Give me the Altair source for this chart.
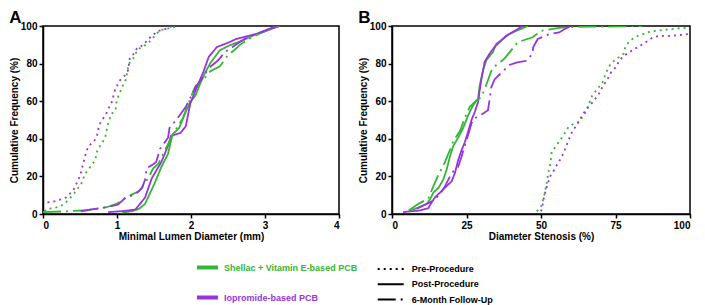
import altair as alt
import pandas as pd

FONT = "Liberation Sans"
GROUPS = ["Shellac + Vitamin E-based PCB", "Iopromide-based PCB"]
COLORS = ["#35b535", "#9933e0"]
STAGES = ["Pre-Procedure", "Post-Procedure", "6-Month Follow-Up"]
DASHES = [[2, 4], [1, 0], [18, 5, 2, 5]]

# ---------- Panel A: Minimal Lumen Diameter (mm) ----------
A_pre_green_x = [0.02, 0.06, 0.15, 0.23, 0.30, 0.35, 0.41, 0.45, 0.51, 0.57, 0.66, 0.71, 0.72, 0.76, 0.80, 0.84, 0.87, 0.92, 0.98, 0.99, 1.01, 1.07, 1.12, 1.16, 1.22, 1.28, 1.34, 1.38, 1.44, 1.58, 1.70, 1.84]
A_pre_green_p = [1.4, 2.8, 3.1, 4.1, 5.7, 7.9, 10.2, 12.8, 15.3, 21.4, 26.2, 28.9, 32.5, 35.5, 37.9, 40.6, 46.7, 53.0, 55.4, 58.9, 61.8, 67.6, 71.6, 79.9, 82.8, 87.5, 89.0, 89.8, 91.7, 97.8, 98.8, 100]
A_pre_purple_x = [0.06, 0.15, 0.23, 0.31, 0.41, 0.48, 0.51, 0.55, 0.59, 0.63, 0.69, 0.73, 0.76, 0.80, 0.85, 0.89, 0.93, 0.97, 1.03, 1.10, 1.15, 1.17, 1.23, 1.27, 1.33, 1.40, 1.46, 1.56, 1.69, 1.74]
A_pre_purple_p = [6.2, 6.7, 7.6, 8.7, 12.7, 18.4, 21.7, 27.9, 33.8, 36.7, 38.6, 41.8, 47.5, 50.0, 53.0, 56.5, 59.6, 65.6, 70.7, 73.5, 76.4, 82.4, 85.4, 88.1, 89.3, 91.9, 94.5, 97.4, 98.8, 100]
A_post_green_x = [1.07, 1.20, 1.30, 1.38, 1.51, 1.60, 1.69, 1.75, 1.84, 1.93, 1.99, 2.06, 2.13, 2.19, 2.26, 2.39, 2.52, 2.70, 2.83, 2.96, 3.13, 3.20]
A_post_green_p = [0.7, 1.5, 2.8, 5.4, 16.5, 25.1, 32.0, 42.3, 45.8, 54.4, 59.6, 63.0, 69.9, 75.1, 80.2, 87.1, 89.7, 92.3, 94.8, 96.6, 99.1, 100]
A_post_purple_x = [0.88, 1.10, 1.25, 1.38, 1.47, 1.60, 1.69, 1.73, 1.86, 1.93, 1.99, 2.06, 2.17, 2.24, 2.35, 2.52, 2.61, 2.78, 2.96, 3.05, 3.20]
A_post_purple_p = [1.0, 1.6, 2.4, 8.8, 19.0, 27.7, 36.3, 41.5, 43.2, 46.7, 58.7, 65.6, 75.9, 83.6, 88.8, 91.4, 93.1, 94.8, 96.6, 98.3, 100]
A_6m_green_x = [0.00, 0.30, 0.60, 0.86, 1.00, 1.12, 1.30, 1.41, 1.49, 1.56, 1.69, 1.78, 1.89, 1.99, 2.06, 2.17, 2.26, 2.39, 2.48, 2.63, 2.65, 2.78, 2.95, 3.20]
A_6m_green_p = [1.0, 1.4, 2.0, 3.6, 5.5, 8.8, 12.2, 18.3, 24.3, 26.8, 37.2, 44.1, 51.0, 61.3, 68.1, 71.6, 75.9, 78.5, 83.6, 88.8, 89.7, 93.0, 96.5, 100]
A_6m_purple_x = [0.51, 0.65, 0.85, 1.01, 1.12, 1.25, 1.34, 1.38, 1.40, 1.49, 1.53, 1.58, 1.69, 1.71, 1.82, 1.93, 2.06, 2.17, 2.24, 2.37, 2.46, 2.56, 2.72, 2.87, 3.05, 3.15]
A_6m_purple_p = [1.4, 2.4, 3.6, 4.9, 8.8, 10.5, 13.9, 18.3, 24.3, 26.5, 27.7, 34.6, 40.6, 45.8, 51.0, 57.0, 67.3, 73.3, 77.6, 81.9, 86.2, 88.8, 93.1, 95.7, 98.3, 100]

# ---------- Panel B: Diameter Stenosis (%) ----------
B_pre_green_x = [48.6, 50.0, 51.1, 51.7, 52.6, 53.1, 53.6, 54.8, 56.1, 58.3, 59.2, 61.1, 62.8, 63.9, 65.0, 65.8, 67.2, 68.6, 70.6, 71.4, 72.2, 73.3, 74.8, 76.4, 77.8, 78.3, 79.4, 81.1, 82.8, 85.0, 86.7, 90.6, 95.0, 99.4]
B_pre_green_p = [1.4, 3.6, 10.0, 14.8, 23.0, 26.3, 32.9, 35.5, 38.6, 43.7, 46.3, 48.2, 49.0, 51.5, 54.4, 57.5, 63.0, 65.9, 69.9, 73.3, 76.4, 79.7, 81.9, 83.6, 85.4, 88.8, 91.4, 93.6, 95.0, 96.0, 97.1, 97.8, 98.6, 99.1]
B_pre_purple_x = [50.0, 50.6, 51.1, 52.0, 53.3, 54.4, 55.6, 57.0, 58.1, 59.2, 60.3, 61.3, 62.8, 63.9, 65.0, 66.3, 67.8, 69.2, 70.8, 72.3, 73.4, 74.8, 76.1, 77.4, 79.4, 82.2, 85.0, 87.2, 89.4, 93.9, 97.8, 99.4]
B_pre_purple_p = [1.4, 5.4, 9.7, 14.8, 20.9, 23.4, 26.8, 30.3, 34.6, 39.2, 43.2, 45.8, 49.3, 52.7, 55.2, 57.5, 60.4, 63.3, 68.1, 71.6, 75.1, 77.6, 81.0, 83.6, 85.9, 88.5, 91.2, 93.6, 94.7, 94.8, 95.4, 95.7]
B_post_green_x = [6.1, 9.0, 11.7, 12.8, 13.9, 15.6, 17.2, 18.3, 19.4, 20.6, 22.2, 23.9, 25.6, 27.2, 28.9, 29.4, 30.6, 31.7, 33.9, 35.0, 37.2, 39.4, 41.7, 45.6]
B_post_green_p = [1.9, 3.5, 5.4, 7.9, 11.4, 13.9, 18.3, 23.4, 30.3, 36.3, 40.6, 45.8, 52.7, 57.8, 61.3, 68.1, 76.8, 81.9, 86.2, 90.5, 93.1, 95.7, 97.4, 100]
B_post_purple_x = [3.7, 9.4, 12.2, 13.3, 14.4, 16.1, 18.3, 20.0, 21.1, 22.2, 23.3, 24.4, 25.6, 26.7, 27.8, 28.9, 29.4, 30.0, 30.6, 31.1, 32.8, 34.4, 36.1, 38.3, 41.1, 43.9]
B_post_purple_p = [1.0, 1.9, 3.1, 6.2, 8.8, 11.4, 14.8, 17.4, 21.7, 28.6, 33.8, 38.0, 44.1, 50.1, 54.4, 59.6, 65.6, 71.6, 76.8, 81.0, 85.4, 88.8, 91.4, 94.8, 97.4, 100]
B_6m_green_x = [5.6, 8.9, 12.2, 13.9, 15.6, 17.8, 19.4, 20.6, 22.8, 24.4, 26.1, 28.3, 30.0, 31.7, 33.3, 35.0, 37.2, 37.8, 42.2, 47.2, 50.0, 56.7, 62.0, 84.0]
B_6m_green_p = [1.9, 5.4, 8.3, 14.8, 20.9, 27.7, 33.8, 38.9, 44.1, 51.0, 57.0, 60.4, 62.2, 69.0, 75.9, 79.3, 81.9, 82.8, 91.4, 94.0, 97.4, 99.1, 99.5, 100]
B_6m_purple_x = [8.3, 13.9, 16.1, 17.8, 20.0, 22.2, 23.3, 24.4, 25.6, 26.7, 27.8, 30.6, 32.2, 32.8, 33.3, 34.4, 36.1, 37.8, 39.4, 41.7, 45.0, 47.2, 47.4, 48.9, 52.8, 56.1, 57.8, 59.4, 61.0]
B_6m_purple_p = [2.8, 7.1, 10.5, 14.8, 21.7, 25.1, 30.3, 36.3, 42.3, 48.4, 51.0, 53.5, 55.2, 61.3, 67.3, 71.6, 74.2, 76.8, 79.3, 80.5, 81.5, 85.4, 88.8, 93.1, 95.7, 96.6, 98.3, 99.5, 100]


def rows(group, stage, xs, ps):
    return [{"group": group, "stage": stage, "x": x, "p": p, "i": i}
            for i, (x, p) in enumerate(zip(xs, ps))]


G, P = GROUPS
dfA = pd.DataFrame(
    rows(G, STAGES[0], A_pre_green_x, A_pre_green_p)
    + rows(P, STAGES[0], A_pre_purple_x, A_pre_purple_p)
    + rows(G, STAGES[1], A_post_green_x, A_post_green_p)
    + rows(P, STAGES[1], A_post_purple_x, A_post_purple_p)
    + rows(G, STAGES[2], A_6m_green_x, A_6m_green_p)
    + rows(P, STAGES[2], A_6m_purple_x, A_6m_purple_p)
)
dfB = pd.DataFrame(
    rows(G, STAGES[0], B_pre_green_x, B_pre_green_p)
    + rows(P, STAGES[0], B_pre_purple_x, B_pre_purple_p)
    + rows(G, STAGES[1], B_post_green_x, B_post_green_p)
    + rows(P, STAGES[1], B_post_purple_x, B_post_purple_p)
    + rows(G, STAGES[2], B_6m_green_x, B_6m_green_p)
    + rows(P, STAGES[2], B_6m_purple_x, B_6m_purple_p)
)

color_legend = alt.Legend(
    title=None, orient="none", legendX=152, legendY=229, direction="vertical",
    symbolType="stroke", symbolSize=441, symbolStrokeWidth=4,
    labelFont=FONT, labelFontSize=9, labelFontWeight="bold", labelOffset=4,
    labelColor=alt.ExprRef("datum.label == 'Iopromide-based PCB' ? '#9933e0' : '#35b535'"),
    rowPadding=9, padding=0,
)
dash_legend = alt.Legend(
    title=None, orient="none", legendX=341.7, legendY=237, direction="vertical",
    symbolType="M-2.6,0H2.6", symbolSize=100, symbolStrokeWidth=2,
    symbolStrokeColor="black", symbolFillColor="transparent",
    labelFont=FONT, labelFontSize=9, labelFontWeight="bold", labelOffset=15,
    labelColor="black", rowPadding=4.3, padding=0,
)


def panel(df, domain, ticks, xtitle, letter, width):
    return alt.Chart(df).mark_line(strokeWidth=1.8, clip=True).encode(
        x=alt.X("x:Q", scale=alt.Scale(domain=domain, nice=False, zero=False),
                axis=alt.Axis(values=ticks, title=xtitle)),
        y=alt.Y("p:Q", scale=alt.Scale(domain=[0, 100], nice=False),
                axis=alt.Axis(values=[0, 20, 40, 60, 80, 100], title="Cumulative Frequency (%)")),
        color=alt.Color("group:N", scale=alt.Scale(domain=GROUPS, range=COLORS), legend=color_legend),
        strokeDash=alt.StrokeDash("stage:N", scale=alt.Scale(domain=STAGES, range=DASHES), legend=dash_legend),
        order=alt.Order("i:Q"),
    ).properties(
        width=width, height=188,
        title=alt.TitleParams(letter, anchor="start", fontSize=17, font=FONT,
                              fontWeight="bold", offset=-6, color="black"),
    )


chartA = panel(dfA, [0, 4], [0, 1, 2, 3, 4], "Minimal Lumen Diameter (mm)", "A", 296)
chartB = panel(dfB, [0, 100], [0, 25, 50, 75, 100], "Diameter Stenosis (%)", "B", 298)

chart = alt.hconcat(chartA, chartB, spacing=16).properties(
    padding={"left": 0, "top": 0, "right": 0, "bottom": 0}
).configure_axis(
    grid=False, labelFont=FONT, labelFontSize=10, labelFontWeight="bold", labelColor="black",
    titleFont=FONT, titleFontSize=10, titleFontWeight="bold", titleColor="black",
    domainColor="black", domainWidth=1.5, tickColor="black", tickWidth=1.5, tickSize=4,
    labelPadding=2, titlePadding=1,
).configure_view(stroke="black", strokeWidth=1.5)

chart.save("out.html", embed_options={"renderer": "svg", "actions": False})
